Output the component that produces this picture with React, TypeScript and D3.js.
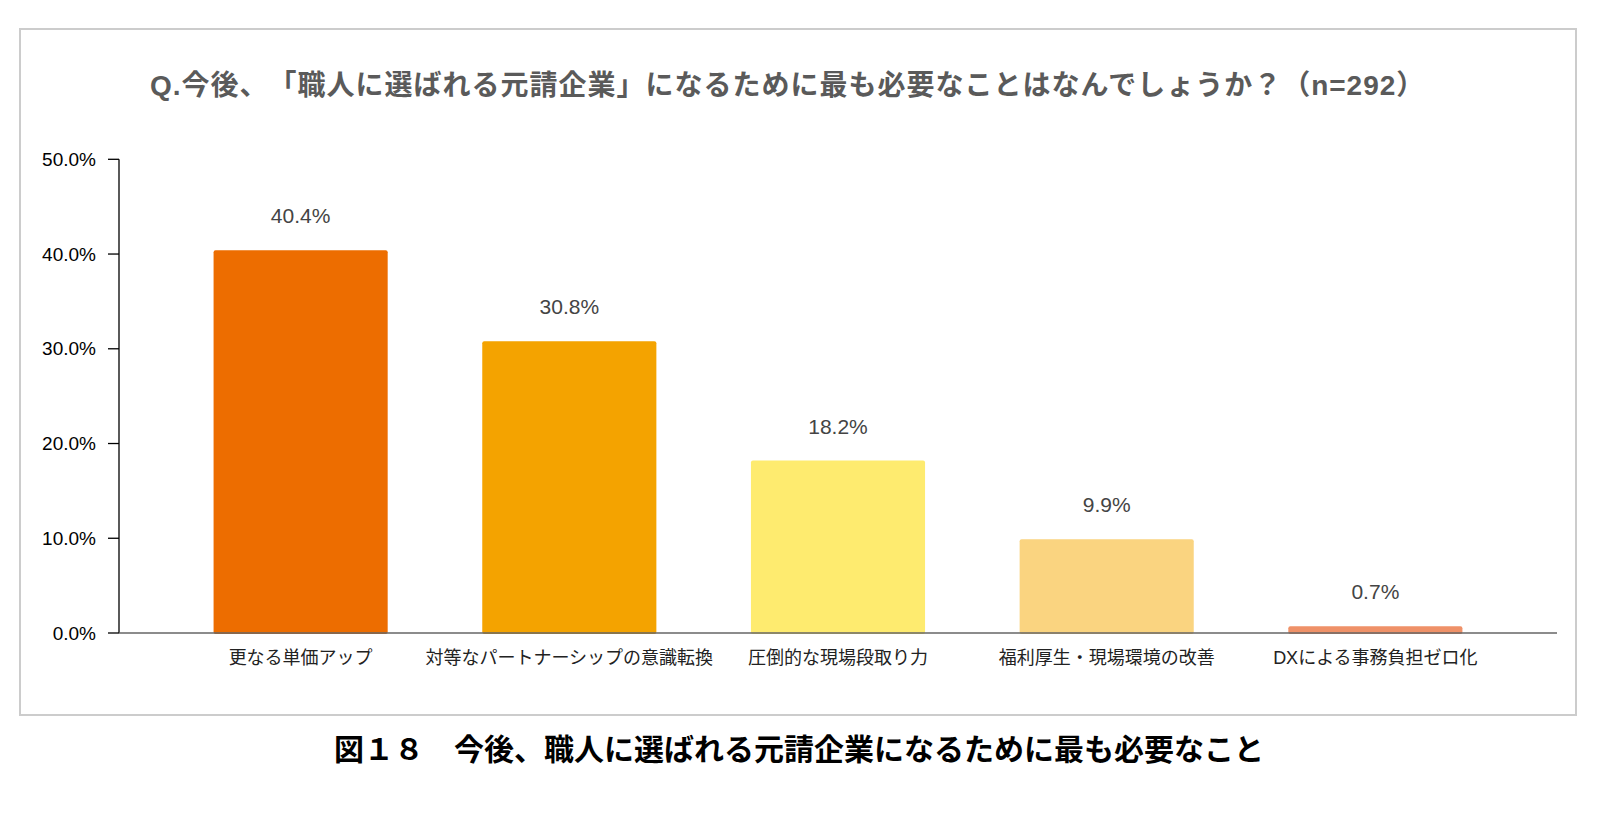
import React from "react";
import * as d3 from "d3";

const categories = [
  "更なる単価アップ",
  "対等なパートナーシップの意識転換",
  "圧倒的な現場段取り力",
  "福利厚生・現場環境の改善",
  "DXによる事務負担ゼロ化",
];
const values = [40.4, 30.8, 18.2, 9.9, 0.7];
const barColors = ["#ED6D00", "#F4A300", "#FEEB6F", "#FAD480", "#EF9168"];
const yTicks = [0, 10, 20, 30, 40, 50];
const title = "Q.今後、「職人に選ばれる元請企業」になるために最も必要なことはなんでしょうか？（n=292）";
const caption = "図１８　今後、職人に選ばれる元請企業になるために最も必要なこと";

const W = 1599;
const H = 819;
const FONT = "'Liberation Sans', Arial, 'Noto Sans CJK JP', sans-serif";

export default function App() {
  const x0 = 119;
  const x1 = 1557;
  const yTop = 159.3;
  const yBase = 633;

  const x = d3
    .scaleBand<string>()
    .domain(categories)
    .range([x0, x1])
    .paddingInner(0.352)
    .paddingOuter(0.352);
  const y = d3.scaleLinear().domain([0, 50]).range([yBase, yTop]);

  const noTrim = { textSpacingTrim: "space-all", fontFeatureSettings: '"chws" 0, "halt" 0' } as any;

  return (
    <svg
      width={W}
      height={H}
      style={{ position: "absolute", left: 0, top: 0, background: "#fff" }}
      fontFamily={FONT}
    >
      <rect x={0} y={0} width={W} height={H} fill="#fff" />
      <rect x={20} y={29} width={1556} height={686} fill="#fff" stroke="#cccccc" strokeWidth={2} />
      <text
        x={150}
        y={95}
        fontSize={28}
        fontWeight="bold"
        fill="#5a5a5a"
        letterSpacing={1}
        style={noTrim}
      >
        {title}
      </text>

      {/* y axis */}
      <line x1={x0} x2={x0} y1={yTop} y2={yBase} stroke="#000" strokeWidth={1.3} />
      {yTicks.map((t) => (
        <g key={t}>
          <line x1={x0 - 11} x2={x0} y1={y(t)} y2={y(t)} stroke="#000" strokeWidth={1.3} />
          <text
            x={96}
            y={y(t)}
            fontSize={19}
            textAnchor="end"
            dominantBaseline="central"
            fill="#000"
          >
            {t.toFixed(1)}%
          </text>
        </g>
      ))}

      {/* bars */}
      {categories.map((c, i) => {
        const bx = x(c)!;
        const bw = x.bandwidth();
        const top = y(values[i]);
        const h = yBase - top;
        return (
          <g key={c}>
            <rect x={bx} y={top} width={bw} height={h + 1} rx={2} ry={2} fill={barColors[i]} />
            <text
              x={bx + bw / 2}
              y={top - 27}
              fontSize={21}
              textAnchor="middle"
              fill="#444"
            >
              {values[i].toFixed(1)}%
            </text>
            <text
              x={bx + bw / 2}
              y={664}
              fontSize={18}
              textAnchor="middle"
              fill="#222"
            >
              {c}
            </text>
          </g>
        );
      })}

      {/* x axis baseline */}
      <line x1={x0} x2={x1} y1={yBase} y2={yBase} stroke="#666" strokeWidth={1.5} />

      <text
        x={799}
        y={760}
        fontSize={30}
        fontWeight="bold"
        textAnchor="middle"
        fill="#000"
        style={noTrim}
      >
        {caption}
      </text>
    </svg>
  );
}
